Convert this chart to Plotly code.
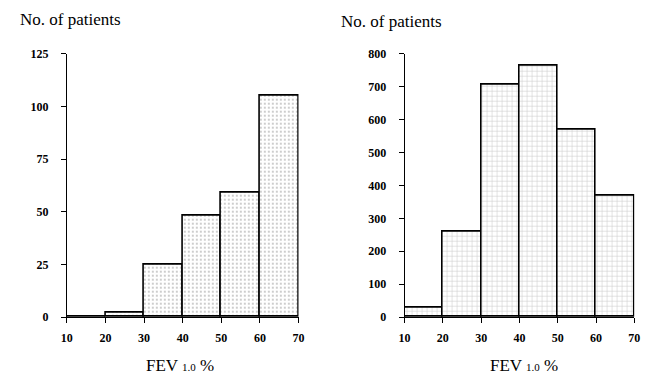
import plotly.graph_objects as go

bins_left = [15, 25, 35, 45, 55, 65]
counts_left = [0, 2, 25, 48, 59, 105]
bins_right = [15, 25, 35, 45, 55, 65]
counts_right = [28, 260, 705, 765, 568, 370]
x_ticks = [10, 20, 30, 40, 50, 60, 70]
y_ticks_left = [0, 25, 50, 75, 100, 125]
y_ticks_right = [0, 100, 200, 300, 400, 500, 600, 700, 800]

W, H = 657, 379
serif = "Liberation Serif"

fig = go.Figure()
fig.add_trace(go.Bar(
    x=bins_left, y=counts_left, width=10, xaxis="x", yaxis="y",
    marker=dict(color="white", line=dict(color="black", width=1.6),
                pattern=dict(shape=".", size=4, solidity=0.18, fgcolor="#777", bgcolor="white")),
    cliponaxis=False, showlegend=False))
fig.add_trace(go.Bar(
    x=bins_right, y=counts_right, width=10, xaxis="x2", yaxis="y2",
    marker=dict(color="white", line=dict(color="black", width=1.6),
                pattern=dict(shape="+", size=5, solidity=0.18, fgcolor="#888", bgcolor="white")),
    cliponaxis=False, showlegend=False))

tickfont = dict(family=serif, size=12, color="black", weight="bold")
ax_common = dict(showgrid=False, zeroline=False, showline=True, linecolor="black", linewidth=1,
                 ticks="outside", ticklen=5, tickcolor="black", tickfont=tickfont, fixedrange=True)

ydom = [(H - 322) / H, (H - 48.5) / H]
fig.update_layout(
    width=W, height=H, margin=dict(l=0, r=0, t=0, b=0),
    paper_bgcolor="white", plot_bgcolor="white", bargap=0,
    font=dict(family=serif, color="black"),
    xaxis=dict(domain=[62 / W, 298 / W], range=[10, 70], tickvals=x_ticks,
               ticktext=[str(v) for v in x_ticks], anchor="y", ticklabelstandoff=4, **ax_common),
    yaxis=dict(domain=ydom, range=[0, 125], tickvals=y_ticks_left,
               ticktext=[str(v) for v in y_ticks_left], anchor="x", ticklabelstandoff=10, **ax_common),
    xaxis2=dict(domain=[406 / W, 640 / W], range=[10, 70], tickvals=x_ticks,
                ticktext=[str(v) for v in x_ticks], anchor="y2", ticklabelstandoff=4, **ax_common),
    yaxis2=dict(domain=ydom, range=[0, 800], tickvals=y_ticks_right,
                ticktext=[str(v) for v in y_ticks_right], anchor="x2", ticklabelstandoff=10, **ax_common),
    annotations=[
        dict(text="No. of patients", x=12 / W, y=1 - 13 / H, xref="paper", yref="paper",
             xanchor="left", yanchor="middle", showarrow=False,
             font=dict(family=serif, size=17, color="black")),
        dict(text="No. of patients", x=339 / W, y=1 - 15 / H, xref="paper", yref="paper",
             xanchor="left", yanchor="middle", showarrow=False,
             font=dict(family=serif, size=17, color="black")),
        dict(text="FEV <span style='font-size:11px'>1.0</span> %", x=177 / W, y=1 - 372 / H,
             xref="paper", yref="paper", xanchor="center", yanchor="middle", showarrow=False,
             font=dict(family=serif, size=17, color="black")),
        dict(text="FEV <span style='font-size:11px'>1.0</span> %", x=528 / W, y=1 - 372 / H,
             xref="paper", yref="paper", xanchor="center", yanchor="middle", showarrow=False,
             font=dict(family=serif, size=17, color="black")),
    ],
)

fig.write_html("out.html")
